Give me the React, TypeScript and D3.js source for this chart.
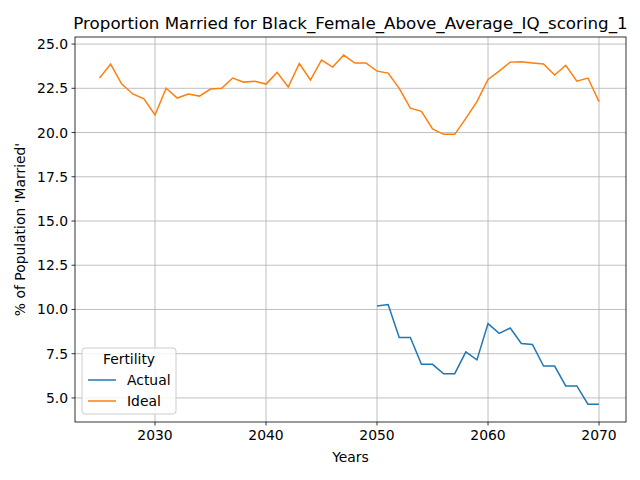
import React from "react";
import * as d3 from "d3";

const idealYears = d3.range(2025, 2071);
const idealValues = [23.08,23.87,22.74,22.18,21.9,20.99,22.5,21.95,22.18,22.06,22.46,22.5,23.08,22.85,22.9,22.74,23.4,22.57,23.9,22.97,24.1,23.7,24.38,23.93,23.93,23.47,23.36,22.5,21.38,21.2,20.2,19.9,19.9,20.8,21.75,23.0,23.47,23.98,24.0,23.93,23.87,23.25,23.8,22.9,23.08,21.75];
const actualYears = d3.range(2050, 2071);
const actualValues = [10.2,10.28,8.42,8.42,6.9,6.9,6.37,6.37,7.6,7.15,9.2,8.65,8.95,8.08,8.02,6.8,6.8,5.68,5.68,4.65,4.65];
const xTicks = [2030, 2040, 2050, 2060, 2070];
const yTicks = [5, 7.5, 10, 12.5, 15, 17.5, 20, 22.5, 25];

export default function App() {
  const L = 75, R = 626, T = 37, B = 422;
  const x = d3.scaleLinear().domain([2022.79, 2072.43]).range([L, R]);
  const y = d3.scaleLinear().domain([3.64, 25.4]).range([B, T]);
  const line = (xs: number[], vs: number[]) =>
    d3.line<number>().x((_, i) => x(xs[i])).y((v) => y(v))(vs) || "";
  const font = "DejaVu Sans, sans-serif";
  return (
    <svg width={640} height={480} style={{ position: "absolute", left: 0, top: 0 }} fontFamily={font}>
      <rect width={640} height={480} fill="#fff" />
      {xTicks.map((t) => (
        <g key={t}>
          <line x1={x(t)} x2={x(t)} y1={T} y2={B} stroke="#b0b0b0" strokeWidth={0.8} />
          <line x1={x(t)} x2={x(t)} y1={B} y2={B + 3.5} stroke="#000" strokeWidth={0.8} />
          <text x={x(t)} y={B + 17} textAnchor="middle" fontSize={13.9} dy="0.05em">{t}</text>
        </g>
      ))}
      {yTicks.map((t) => (
        <g key={t}>
          <line x1={L} x2={R} y1={y(t)} y2={y(t)} stroke="#b0b0b0" strokeWidth={0.8} />
          <line x1={L - 3.5} x2={L} y1={y(t)} y2={y(t)} stroke="#000" strokeWidth={0.8} />
          <text x={L - 7} y={y(t)} textAnchor="end" dominantBaseline="central" fontSize={13.9}>{t.toFixed(1)}</text>
        </g>
      ))}
      <path d={line(actualYears, actualValues)} fill="none" stroke="#1f77b4" strokeWidth={1.5} />
      <path d={line(idealYears, idealValues)} fill="none" stroke="#ff7f0e" strokeWidth={1.5} />
      <rect x={L} y={T} width={R - L} height={B - T} fill="none" stroke="#000" strokeWidth={0.8} />
      <text x={(L + R) / 2} y={29} textAnchor="middle" fontSize={16.7}>Proportion Married for Black_Female_Above_Average_IQ_scoring_1</text>
      <text x={(L + R) / 2} y={462} textAnchor="middle" fontSize={13.9}>Years</text>
      <text transform={`translate(25,${(T + B) / 2}) rotate(-90)`} textAnchor="middle" fontSize={13.9}>% of Population 'Married'</text>
      <g>
        <rect x={82} y={348} width={94} height={66} rx={3} fill="#fff" fillOpacity={0.8} stroke="#ccc" />
        <text x={129} y={364} textAnchor="middle" fontSize={13.9}>Fertility</text>
        <line x1={88} x2={116} y1={380} y2={380} stroke="#1f77b4" strokeWidth={1.5} />
        <text x={127} y={385} fontSize={13.9}>Actual</text>
        <line x1={88} x2={116} y1={401} y2={401} stroke="#ff7f0e" strokeWidth={1.5} />
        <text x={127} y={406} fontSize={13.9}>Ideal</text>
      </g>
    </svg>
  );
}
